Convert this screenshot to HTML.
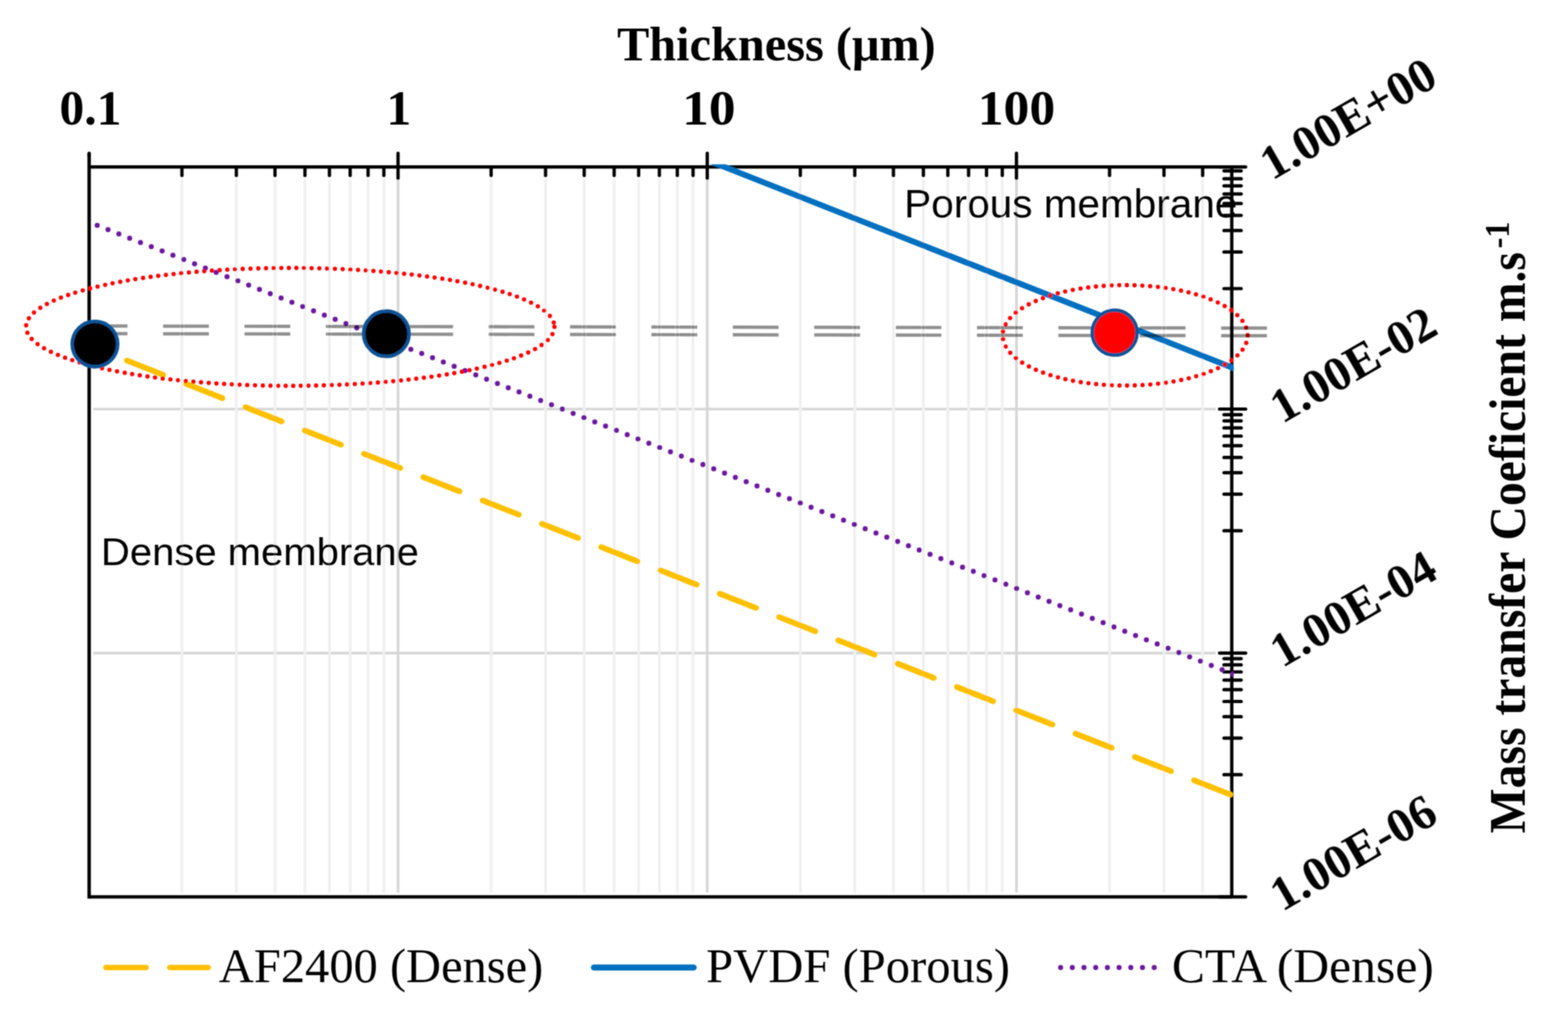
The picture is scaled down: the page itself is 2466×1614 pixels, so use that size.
<!DOCTYPE html><html><head><meta charset="utf-8"><title>Mass transfer coefficient vs thickness</title><style>html,body{margin:0;padding:0;background:#fff;overflow:hidden}svg{display:block}</style></head><body>
<svg width="2466" height="1614" viewBox="0 0 2466 1614">
<defs><filter id="bl" filterUnits="userSpaceOnUse" x="0" y="0" width="2466" height="1614"><feConvolveMatrix order="5" kernelMatrix="1 8 16 8 1 8 64 128 64 8 16 128 256 128 16 8 64 128 64 8 1 8 16 8 1" divisor="1156" edgeMode="duplicate"/></filter></defs>
<defs><clipPath id="pa"><rect x="137" y="258.5" width="1803.3" height="1155"/></clipPath></defs>
<rect width="2466" height="1614" fill="#fff"/>
<g filter="url(#bl)">
<line x1="147" y1="643.5" x2="1912" y2="643.5" stroke="#d6d6d6" stroke-width="4.2"/>
<line x1="147" y1="1027.3" x2="1912" y2="1027.3" stroke="#d6d6d6" stroke-width="4.2"/>
<line x1="286.1" y1="282" x2="286.1" y2="1404" stroke="#f0f0f0" stroke-width="4.4"/>
<line x1="371.7" y1="282" x2="371.7" y2="1404" stroke="#f0f0f0" stroke-width="4.4"/>
<line x1="432.5" y1="282" x2="432.5" y2="1404" stroke="#f0f0f0" stroke-width="4.4"/>
<line x1="479.6" y1="282" x2="479.6" y2="1404" stroke="#f0f0f0" stroke-width="4.4"/>
<line x1="518.1" y1="282" x2="518.1" y2="1404" stroke="#f0f0f0" stroke-width="4.4"/>
<line x1="550.7" y1="282" x2="550.7" y2="1404" stroke="#f0f0f0" stroke-width="4.4"/>
<line x1="578.9" y1="282" x2="578.9" y2="1404" stroke="#f0f0f0" stroke-width="4.4"/>
<line x1="603.7" y1="282" x2="603.7" y2="1404" stroke="#f0f0f0" stroke-width="4.4"/>
<line x1="772.4" y1="282" x2="772.4" y2="1404" stroke="#f0f0f0" stroke-width="4.4"/>
<line x1="858.0" y1="282" x2="858.0" y2="1404" stroke="#f0f0f0" stroke-width="4.4"/>
<line x1="918.8" y1="282" x2="918.8" y2="1404" stroke="#f0f0f0" stroke-width="4.4"/>
<line x1="965.9" y1="282" x2="965.9" y2="1404" stroke="#f0f0f0" stroke-width="4.4"/>
<line x1="1004.4" y1="282" x2="1004.4" y2="1404" stroke="#f0f0f0" stroke-width="4.4"/>
<line x1="1037.0" y1="282" x2="1037.0" y2="1404" stroke="#f0f0f0" stroke-width="4.4"/>
<line x1="1065.2" y1="282" x2="1065.2" y2="1404" stroke="#f0f0f0" stroke-width="4.4"/>
<line x1="1090.0" y1="282" x2="1090.0" y2="1404" stroke="#f0f0f0" stroke-width="4.4"/>
<line x1="1258.7" y1="282" x2="1258.7" y2="1404" stroke="#f0f0f0" stroke-width="4.4"/>
<line x1="1344.3" y1="282" x2="1344.3" y2="1404" stroke="#f0f0f0" stroke-width="4.4"/>
<line x1="1405.1" y1="282" x2="1405.1" y2="1404" stroke="#f0f0f0" stroke-width="4.4"/>
<line x1="1452.2" y1="282" x2="1452.2" y2="1404" stroke="#f0f0f0" stroke-width="4.4"/>
<line x1="1490.7" y1="282" x2="1490.7" y2="1404" stroke="#f0f0f0" stroke-width="4.4"/>
<line x1="1523.3" y1="282" x2="1523.3" y2="1404" stroke="#f0f0f0" stroke-width="4.4"/>
<line x1="1551.5" y1="282" x2="1551.5" y2="1404" stroke="#f0f0f0" stroke-width="4.4"/>
<line x1="1576.3" y1="282" x2="1576.3" y2="1404" stroke="#f0f0f0" stroke-width="4.4"/>
<line x1="1745.0" y1="282" x2="1745.0" y2="1404" stroke="#f0f0f0" stroke-width="4.4"/>
<line x1="1830.6" y1="282" x2="1830.6" y2="1404" stroke="#f0f0f0" stroke-width="4.4"/>
<line x1="1891.4" y1="282" x2="1891.4" y2="1404" stroke="#f0f0f0" stroke-width="4.4"/>
<line x1="626.0" y1="282" x2="626.0" y2="1404" stroke="#d6d6d6" stroke-width="4.2"/>
<line x1="1112.3" y1="282" x2="1112.3" y2="1404" stroke="#d6d6d6" stroke-width="4.2"/>
<line x1="1598.6" y1="282" x2="1598.6" y2="1404" stroke="#d6d6d6" stroke-width="4.2"/>
<line x1="140.2" y1="262.6" x2="1937.2" y2="262.6" stroke="#000" stroke-width="5.2"/>
<line x1="140.2" y1="1410.8" x2="1937.2" y2="1410.8" stroke="#000" stroke-width="5.2"/>
<line x1="140.2" y1="241" x2="140.2" y2="1413.3999999999999" stroke="#000" stroke-width="5.4"/>
<line x1="140.2" y1="241" x2="140.2" y2="245" stroke="#000" stroke-width="5.2" stroke-linecap="round"/>
<line x1="1937.2" y1="262.6" x2="1937.2" y2="1410.8" stroke="#000" stroke-width="5.2"/>
<line x1="286.1" y1="262.6" x2="286.1" y2="276" stroke="#000" stroke-width="5.2" stroke-linecap="round"/>
<line x1="371.7" y1="262.6" x2="371.7" y2="276" stroke="#000" stroke-width="5.2" stroke-linecap="round"/>
<line x1="432.5" y1="262.6" x2="432.5" y2="276" stroke="#000" stroke-width="5.2" stroke-linecap="round"/>
<line x1="479.6" y1="262.6" x2="479.6" y2="276" stroke="#000" stroke-width="5.2" stroke-linecap="round"/>
<line x1="518.1" y1="262.6" x2="518.1" y2="276" stroke="#000" stroke-width="5.2" stroke-linecap="round"/>
<line x1="550.7" y1="262.6" x2="550.7" y2="276" stroke="#000" stroke-width="5.2" stroke-linecap="round"/>
<line x1="578.9" y1="262.6" x2="578.9" y2="276" stroke="#000" stroke-width="5.2" stroke-linecap="round"/>
<line x1="603.7" y1="262.6" x2="603.7" y2="276" stroke="#000" stroke-width="5.2" stroke-linecap="round"/>
<line x1="772.4" y1="262.6" x2="772.4" y2="276" stroke="#000" stroke-width="5.2" stroke-linecap="round"/>
<line x1="858.0" y1="262.6" x2="858.0" y2="276" stroke="#000" stroke-width="5.2" stroke-linecap="round"/>
<line x1="918.8" y1="262.6" x2="918.8" y2="276" stroke="#000" stroke-width="5.2" stroke-linecap="round"/>
<line x1="965.9" y1="262.6" x2="965.9" y2="276" stroke="#000" stroke-width="5.2" stroke-linecap="round"/>
<line x1="1004.4" y1="262.6" x2="1004.4" y2="276" stroke="#000" stroke-width="5.2" stroke-linecap="round"/>
<line x1="1037.0" y1="262.6" x2="1037.0" y2="276" stroke="#000" stroke-width="5.2" stroke-linecap="round"/>
<line x1="1065.2" y1="262.6" x2="1065.2" y2="276" stroke="#000" stroke-width="5.2" stroke-linecap="round"/>
<line x1="1090.0" y1="262.6" x2="1090.0" y2="276" stroke="#000" stroke-width="5.2" stroke-linecap="round"/>
<line x1="1258.7" y1="262.6" x2="1258.7" y2="276" stroke="#000" stroke-width="5.2" stroke-linecap="round"/>
<line x1="1344.3" y1="262.6" x2="1344.3" y2="276" stroke="#000" stroke-width="5.2" stroke-linecap="round"/>
<line x1="1405.1" y1="262.6" x2="1405.1" y2="276" stroke="#000" stroke-width="5.2" stroke-linecap="round"/>
<line x1="1452.2" y1="262.6" x2="1452.2" y2="276" stroke="#000" stroke-width="5.2" stroke-linecap="round"/>
<line x1="1490.7" y1="262.6" x2="1490.7" y2="276" stroke="#000" stroke-width="5.2" stroke-linecap="round"/>
<line x1="1523.3" y1="262.6" x2="1523.3" y2="276" stroke="#000" stroke-width="5.2" stroke-linecap="round"/>
<line x1="1551.5" y1="262.6" x2="1551.5" y2="276" stroke="#000" stroke-width="5.2" stroke-linecap="round"/>
<line x1="1576.3" y1="262.6" x2="1576.3" y2="276" stroke="#000" stroke-width="5.2" stroke-linecap="round"/>
<line x1="1745.0" y1="262.6" x2="1745.0" y2="276" stroke="#000" stroke-width="5.2" stroke-linecap="round"/>
<line x1="1830.6" y1="262.6" x2="1830.6" y2="276" stroke="#000" stroke-width="5.2" stroke-linecap="round"/>
<line x1="1891.4" y1="262.6" x2="1891.4" y2="276" stroke="#000" stroke-width="5.2" stroke-linecap="round"/>
<line x1="626.0" y1="241" x2="626.0" y2="280.5" stroke="#000" stroke-width="5.2" stroke-linecap="round"/>
<line x1="1112.3" y1="241" x2="1112.3" y2="280.5" stroke="#000" stroke-width="5.2" stroke-linecap="round"/>
<line x1="1598.6" y1="241" x2="1598.6" y2="280.5" stroke="#000" stroke-width="5.2" stroke-linecap="round"/>
<line x1="1918" y1="262.6" x2="1959" y2="262.6" stroke="#000" stroke-width="5.2" stroke-linecap="round"/>
<line x1="1925" y1="454.0" x2="1952" y2="454.0" stroke="#000" stroke-width="5.2" stroke-linecap="round"/>
<line x1="1925" y1="396.4" x2="1952" y2="396.4" stroke="#000" stroke-width="5.2" stroke-linecap="round"/>
<line x1="1925" y1="362.7" x2="1952" y2="362.7" stroke="#000" stroke-width="5.2" stroke-linecap="round"/>
<line x1="1925" y1="338.8" x2="1952" y2="338.8" stroke="#000" stroke-width="5.2" stroke-linecap="round"/>
<line x1="1925" y1="320.2" x2="1952" y2="320.2" stroke="#000" stroke-width="5.2" stroke-linecap="round"/>
<line x1="1925" y1="305.1" x2="1952" y2="305.1" stroke="#000" stroke-width="5.2" stroke-linecap="round"/>
<line x1="1925" y1="292.3" x2="1952" y2="292.3" stroke="#000" stroke-width="5.2" stroke-linecap="round"/>
<line x1="1925" y1="281.2" x2="1952" y2="281.2" stroke="#000" stroke-width="5.2" stroke-linecap="round"/>
<line x1="1925" y1="268.8" x2="1952" y2="268.8" stroke="#000" stroke-width="5.2" stroke-linecap="round"/>
<line x1="1918" y1="643.5" x2="1959" y2="643.5" stroke="#000" stroke-width="5.2" stroke-linecap="round"/>
<line x1="1925" y1="834.9" x2="1952" y2="834.9" stroke="#000" stroke-width="5.2" stroke-linecap="round"/>
<line x1="1925" y1="777.3" x2="1952" y2="777.3" stroke="#000" stroke-width="5.2" stroke-linecap="round"/>
<line x1="1925" y1="743.6" x2="1952" y2="743.6" stroke="#000" stroke-width="5.2" stroke-linecap="round"/>
<line x1="1925" y1="719.7" x2="1952" y2="719.7" stroke="#000" stroke-width="5.2" stroke-linecap="round"/>
<line x1="1925" y1="701.1" x2="1952" y2="701.1" stroke="#000" stroke-width="5.2" stroke-linecap="round"/>
<line x1="1925" y1="686.0" x2="1952" y2="686.0" stroke="#000" stroke-width="5.2" stroke-linecap="round"/>
<line x1="1925" y1="673.2" x2="1952" y2="673.2" stroke="#000" stroke-width="5.2" stroke-linecap="round"/>
<line x1="1925" y1="662.1" x2="1952" y2="662.1" stroke="#000" stroke-width="5.2" stroke-linecap="round"/>
<line x1="1925" y1="652.3" x2="1952" y2="652.3" stroke="#000" stroke-width="5.2" stroke-linecap="round"/>
<line x1="1918" y1="1027.3" x2="1959" y2="1027.3" stroke="#000" stroke-width="5.2" stroke-linecap="round"/>
<line x1="1925" y1="1218.7" x2="1952" y2="1218.7" stroke="#000" stroke-width="5.2" stroke-linecap="round"/>
<line x1="1925" y1="1161.1" x2="1952" y2="1161.1" stroke="#000" stroke-width="5.2" stroke-linecap="round"/>
<line x1="1925" y1="1127.4" x2="1952" y2="1127.4" stroke="#000" stroke-width="5.2" stroke-linecap="round"/>
<line x1="1925" y1="1103.5" x2="1952" y2="1103.5" stroke="#000" stroke-width="5.2" stroke-linecap="round"/>
<line x1="1925" y1="1084.9" x2="1952" y2="1084.9" stroke="#000" stroke-width="5.2" stroke-linecap="round"/>
<line x1="1925" y1="1069.8" x2="1952" y2="1069.8" stroke="#000" stroke-width="5.2" stroke-linecap="round"/>
<line x1="1925" y1="1057.0" x2="1952" y2="1057.0" stroke="#000" stroke-width="5.2" stroke-linecap="round"/>
<line x1="1925" y1="1045.9" x2="1952" y2="1045.9" stroke="#000" stroke-width="5.2" stroke-linecap="round"/>
<line x1="1925" y1="1036.1" x2="1952" y2="1036.1" stroke="#000" stroke-width="5.2" stroke-linecap="round"/>
<line x1="1918" y1="1410.8" x2="1959" y2="1410.8" stroke="#000" stroke-width="5.2" stroke-linecap="round"/>
<g clip-path="url(#pa)">
<line x1="149.3" y1="547.4" x2="1950" y2="1255.8" stroke="#ffc000" stroke-width="9" stroke-linecap="round" stroke-dasharray="61.2 39" stroke-dashoffset="46.2"/>
<line x1="152.9" y1="354.5" x2="1950" y2="1064.5" stroke="#6c17a0" stroke-width="8" stroke-linecap="round" stroke-dasharray="0 18.29"/>
<line x1="1100" y1="247.0" x2="1950" y2="583.0" stroke="#0070c0" stroke-width="9.2"/>
</g>
<ellipse cx="456.5" cy="514.2" rx="415.5" ry="92.7" fill="none" stroke="#ff0000" stroke-width="6.8" stroke-linecap="round" stroke-dasharray="0 12.1"/>
<ellipse cx="1769.5" cy="527.5" rx="192.7" ry="79" fill="none" stroke="#ff0000" stroke-width="6.8" stroke-linecap="round" stroke-dasharray="0 12.2"/>
<line x1="128.5" y1="512.8" x2="1992.5" y2="516.2" stroke="#000" stroke-opacity="0.44" stroke-width="5.2" stroke-dasharray="72 56"/>
<line x1="128.5" y1="524.8" x2="1992.5" y2="528.2" stroke="#000" stroke-opacity="0.44" stroke-width="5.2" stroke-dasharray="72 56"/>
<circle cx="149.3" cy="541.2" r="35.8" fill="#000" stroke="#0e5296" stroke-width="5.5"/>
<circle cx="607.6" cy="525" r="35.8" fill="#000" stroke="#0e5296" stroke-width="5.5"/>
<circle cx="1753" cy="523.3" r="35.2" fill="#ff0000" stroke="#0e5296" stroke-width="5.5"/>
<text transform="translate(1221,95) scale(1.0,1)" text-anchor="middle" font-family="Liberation Serif, 'Times New Roman', serif" font-weight="bold" font-size="76">Thickness (μm)</text>
<text transform="translate(142.2,196) scale(1.0,1)" text-anchor="middle" font-family="Liberation Serif, 'Times New Roman', serif" font-weight="bold" font-size="78">0.1</text>
<text transform="translate(627.3,196) scale(1.0,1)" text-anchor="middle" font-family="Liberation Serif, 'Times New Roman', serif" font-weight="bold" font-size="78">1</text>
<text transform="translate(1114.8,196) scale(1.08,1)" text-anchor="middle" font-family="Liberation Serif, 'Times New Roman', serif" font-weight="bold" font-size="78">10</text>
<text transform="translate(1598.6,196) scale(1.04,1)" text-anchor="middle" font-family="Liberation Serif, 'Times New Roman', serif" font-weight="bold" font-size="78">100</text>
<text transform="translate(2000.5,284.5) rotate(-30)" font-family="Liberation Serif, 'Times New Roman', serif" font-weight="bold" font-size="76.5">1.00E+00</text>
<text transform="translate(2016.3,667.3) rotate(-30)" font-family="Liberation Serif, 'Times New Roman', serif" font-weight="bold" font-size="76.5">1.00E-02</text>
<text transform="translate(2016.3,1051.3) rotate(-30)" font-family="Liberation Serif, 'Times New Roman', serif" font-weight="bold" font-size="76.5">1.00E-04</text>
<text transform="translate(2016.3,1434.8) rotate(-30)" font-family="Liberation Serif, 'Times New Roman', serif" font-weight="bold" font-size="76.5">1.00E-06</text>
<text transform="translate(2398,1311) rotate(-90) scale(0.937,1)" font-family="Liberation Serif, 'Times New Roman', serif" font-weight="bold" font-size="80">Mass transfer Coeficient m.s<tspan font-size="54.4" dx="6" dy="-24.8">-1</tspan></text>
<text x="1422" y="341.6" font-family="Liberation Sans, Arial, sans-serif" font-size="63" textLength="524" lengthAdjust="spacingAndGlyphs">Porous membrane</text>
<text x="158.8" y="889.2" font-family="Liberation Sans, Arial, sans-serif" font-size="62" textLength="500" lengthAdjust="spacingAndGlyphs">Dense membrane</text>
<text transform="translate(344.3,1545) scale(0.99,1)" font-family="Liberation Serif, 'Times New Roman', serif" font-size="77">AF2400 (Dense)</text>
<text transform="translate(1110.5,1545) scale(0.993,1)" font-family="Liberation Serif, 'Times New Roman', serif" font-size="77">PVDF (Porous)</text>
<text transform="translate(1843,1545) scale(1.0135,1)" font-family="Liberation Serif, 'Times New Roman', serif" font-size="77">CTA (Dense)</text>
<line x1="166.5" y1="1522" x2="230" y2="1522" stroke="#ffc000" stroke-width="8.5" stroke-linecap="round"/>
<line x1="267" y1="1522" x2="327.5" y2="1522" stroke="#ffc000" stroke-width="8.5" stroke-linecap="round"/>
<line x1="934" y1="1522" x2="1091" y2="1522" stroke="#0070c0" stroke-width="9.5" stroke-linecap="round"/>
<line x1="1668" y1="1522" x2="1816" y2="1522" stroke="#6c17a0" stroke-width="8" stroke-linecap="round" stroke-dasharray="0 18.4"/>
</g></svg></body></html>
